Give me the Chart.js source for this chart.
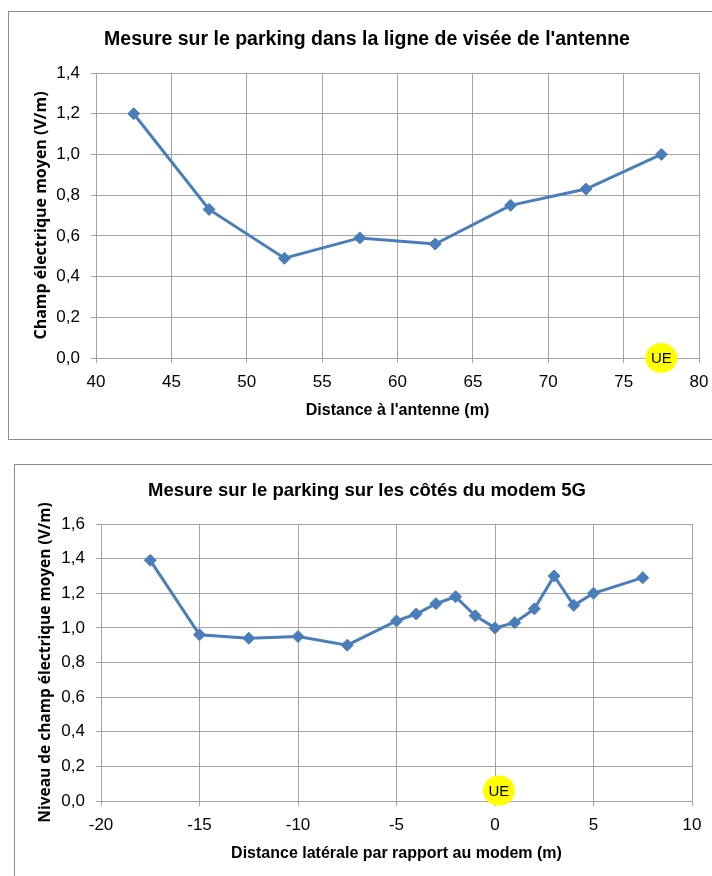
<!DOCTYPE html>
<html lang="fr">
<head>
<meta charset="utf-8">
<title>Mesures de champ électrique</title>
<script src="https://cdn.jsdelivr.net/npm/chart.js@4.4.1/dist/chart.umd.min.js"></script>
<style>
  html, body { margin: 0; padding: 0; background: #fff; width: 712px; height: 876px; overflow: hidden; }
  .cadre { position: absolute; box-sizing: border-box; border: 1px solid #8c8c8c; background: #fff; }
  canvas { position: absolute; }
</style>
</head>
<body>
<div class="cadre" style="left:8px; top:11px; width:720px; height:429px;"></div>
<canvas id="graphAntenne" width="716" height="427" style="left:9px; top:12px;"></canvas>
<div class="cadre" style="left:14px; top:464px; width:720px; height:500px;"></div>
<canvas id="graphLateral" width="704" height="410" style="left:15px; top:466px;"></canvas>
<script>
// Mesure dans la ligne de visée de l'antenne
const distAntenne = [42.5, 47.5, 52.5, 57.5, 62.5, 67.5, 72.5, 77.5];
const champAntenne = [1.20, 0.73, 0.49, 0.59, 0.56, 0.75, 0.83, 1.00];

// Mesure sur les côtés du modem 5G
const distLaterale = [-17.5, -15, -12.5, -10, -7.5, -5, -4, -3, -2, -1, 0, 1, 2, 3, 4, 5, 7.5];
const champLateral = [1.39, 0.96, 0.94, 0.95, 0.90, 1.04, 1.08, 1.14, 1.18, 1.07, 1.00, 1.03, 1.11, 1.30, 1.13, 1.20, 1.29];

// bornes des axes : min, max, pas
const axeAntenneX = [40, 80, 5];
const axeAntenneY = [0, 1.4, 0.2];
const axeLateralX = [-20, 10, 5];
const axeLateralY = [0, 1.6, 0.2];

// position de l'équipement utilisateur (UE)
const ueAntenne = { x: 77.5, y: 0 };
const ueLateral = { x: 0.2, y: 0.06 };

const SANS = '"Liberation Sans", Arial, sans-serif';
const WIDE = '"Open Sans", "DejaVu Sans", sans-serif';
const BLEU = '#4a7ebb';
const GRILLE = '#a3a3a3';

// pastille jaune "UE" posée en coordonnées de données
const pastilleUE = {
  id: 'pastilleUE',
  afterDraw(chart, _args, opts) {
    const ctx = chart.ctx;
    const px = chart.scales.x.getPixelForValue(opts.x);
    const py = chart.scales.y.getPixelForValue(opts.y);
    ctx.save();
    ctx.fillStyle = '#ffff00';
    ctx.beginPath();
    ctx.ellipse(px, py, 16, 15, 0, 0, Math.PI * 2);
    ctx.fill();
    ctx.fillStyle = '#000';
    ctx.font = '15px ' + SANS;
    ctx.textAlign = 'center';
    ctx.textBaseline = 'middle';
    ctx.fillText('UE', px, py + 1);
    ctx.restore();
  }
};

function tracer(id, xs, ys, axeX, axeY, cfg) {
  new Chart(document.getElementById(id), {
    type: 'scatter',
    data: {
      datasets: [{
        data: xs.map((x, i) => ({ x: x, y: ys[i] })),
        showLine: true,
        borderColor: BLEU,
        borderWidth: 3,
        backgroundColor: BLEU,
        pointStyle: 'rectRot',
        pointRadius: 6,
        pointBorderWidth: 1,
        pointBorderColor: BLEU,
        pointBackgroundColor: BLEU
      }]
    },
    plugins: [pastilleUE],
    options: {
      responsive: false,
      animation: false,
      layout: { padding: 0 },
      plugins: {
        legend: { display: false },
        tooltip: { enabled: false },
        title: {
          display: true,
          text: cfg.titre,
          color: '#000',
          font: { family: SANS, size: cfg.tailleTitre, weight: 'bold' },
          padding: cfg.titrePadding
        },
        pastilleUE: cfg.ue
      },
      scales: {
        x: {
          type: 'linear',
          min: axeX[0],
          max: axeX[1],
          afterFit: s => { s.height = cfg.hauteurX; },
          ticks: {
            stepSize: axeX[2],
            color: '#000',
            padding: 9,
            maxRotation: 0,
            font: { family: SANS, size: 17 },
            callback: v => String(v)
          },
          grid: { color: GRILLE, tickLength: 5, tickColor: GRILLE },
          border: { color: GRILLE },
          title: {
            display: true,
            text: cfg.titreX,
            color: '#000',
            font: { family: SANS, size: 16, weight: 'bold' },
            padding: { top: 0, bottom: cfg.titreXBas }
          }
        },
        y: {
          min: axeY[0],
          max: axeY[1],
          afterFit: s => { s.width = cfg.largeurY; },
          ticks: {
            stepSize: axeY[2],
            color: '#000',
            padding: 11,
            font: { family: SANS, size: 17 },
            callback: v => v.toFixed(1).replace('.', ',')
          },
          grid: { color: GRILLE, tickLength: 5, tickColor: GRILLE },
          border: { color: GRILLE },
          title: {
            display: true,
            text: cfg.titreY,
            color: '#000',
            font: { family: WIDE, size: cfg.tailleTitreY, weight: 'bold' },
            padding: { top: cfg.titreYGauche, bottom: 0 }
          }
        },
        // marge droite réservée, pour centrer le titre sur le cadre
        marge: {
          position: 'right',
          min: 0,
          max: 1,
          afterFit: s => { s.width = cfg.droite; },
          ticks: { display: false },
          grid: { display: false },
          border: { display: false }
        }
      }
    }
  });
}

tracer('graphAntenne', distAntenne, champAntenne, axeAntenneX, axeAntenneY, {
  titre: "Mesure sur le parking dans la ligne de visée de l'antenne",
  titreX: "Distance à l'antenne (m)",
  titreY: 'Champ électrique moyen (V/m)',
  tailleTitre: 19.5,
  tailleTitreY: 16,
  titrePadding: { top: 15.5, bottom: 22.1 },
  droite: 26,
  hauteurX: 81,
  largeurY: 87,
  titreXBas: 19,
  titreYGauche: 23,
  ue: ueAntenne
});

tracer('graphLateral', distLaterale, champLateral, axeLateralX, axeLateralY, {
  titre: 'Mesure sur le parking sur les côtés du modem 5G',
  titreX: 'Distance latérale par rapport au modem (m)',
  titreY: 'Niveau de champ électrique moyen (V/m)',
  tailleTitre: 18.5,
  tailleTitreY: 15.5,
  titrePadding: { top: 13.5, bottom: 22.3 },
  droite: 27,
  hauteurX: 75,
  largeurY: 86,
  titreXBas: 13,
  titreYGauche: 21.5,
  ue: ueLateral
});
</script>
</body>
</html>
